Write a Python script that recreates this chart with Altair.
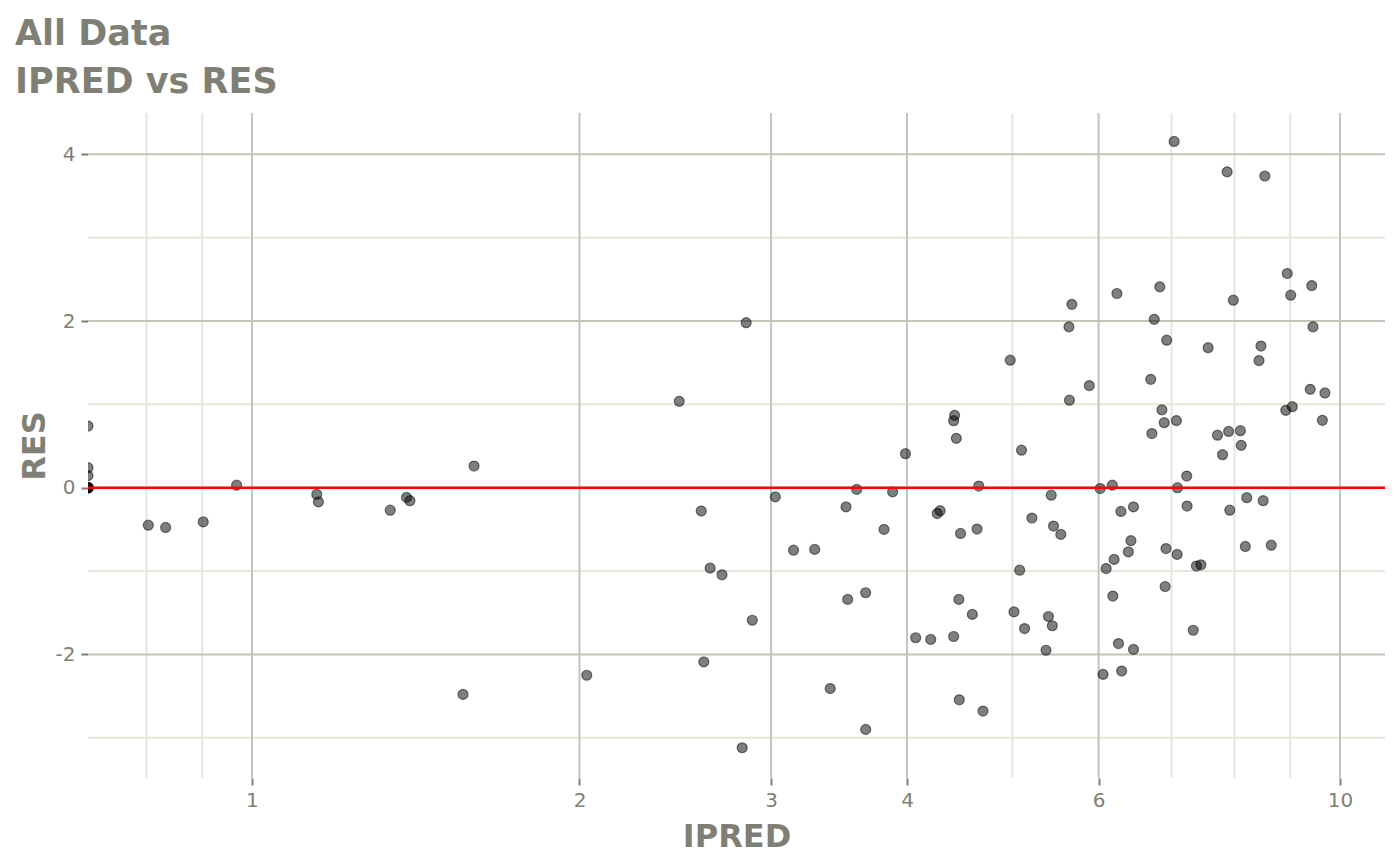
import altair as alt
import pandas as pd

# IPRED (x, log scale) and RES (y)
ipred = [
    0, 0, 0, 0, 0, 0, 0, 0, 0,
    0.803, 0.833, 0.902, 0.968, 1.147, 1.151, 1.34, 1.387, 1.397, 1.600, 1.563,
    2.031, 2.47, 2.588, 2.602, 2.637, 2.704, 2.822, 2.846, 2.883, 3.027,
    3.146, 3.29, 3.40, 3.516, 3.528, 3.596, 3.665, 3.665, 3.81, 3.88,
    3.987, 4.074, 4.206, 4.264, 4.29, 4.415, 4.424, 4.415, 4.44, 4.464,
    4.468, 4.48, 4.593, 4.639, 4.656, 4.698, 4.977, 5.016, 5.077, 5.097,
    5.13, 5.21, 5.368, 5.396, 5.428, 5.44, 5.454, 5.539, 5.635, 5.641,
    5.67, 5.883,
    6.02, 6.057, 6.097, 6.177, 6.184, 6.20, 6.237, 6.258, 6.29, 6.30,
    6.39, 6.425, 6.46, 6.46, 6.70, 6.716, 6.75, 6.83, 6.86, 6.894,
    6.907, 6.92, 6.93, 7.04, 7.074, 7.085, 7.09,
    7.23, 7.236, 7.33, 7.38, 7.45, 7.565, 7.716, 7.80, 7.876, 7.90,
    7.92, 7.98, 8.10, 8.114, 8.185, 8.21, 8.425, 8.46, 8.50, 8.53,
    8.647, 8.916, 8.944, 9.01, 9.04, 9.39, 9.42, 9.445, 9.634, 9.687,
]
res = [
    0.74, 0.24, 0.145, 0, 0, 0, 0, 0, 0,
    -0.45, -0.477, -0.41, 0.03, -0.08, -0.17, -0.27, -0.116, -0.156, 0.26, -2.48,
    -2.25, 1.036, -0.28, -2.09, -0.965, -1.045, -3.12, 1.98, -1.59, -0.11,
    -0.75, -0.74, -2.41, -0.23, -1.34, -0.02, -1.26, -2.90, -0.50, -0.05,
    0.408, -1.80, -1.82, -0.31, -0.276, 0.804, 0.868, -1.785, 0.592, -1.34,
    -2.545, -0.549, -1.52, -0.496, 0.02, -2.68, 1.53, -1.49, -0.99, 0.45,
    -1.69, -0.364, -1.95, -1.545, -0.09, -1.656, -0.46, -0.56, 1.93, 1.05,
    2.20, 1.225,
    -0.01, -2.24, -0.97, 0.03, -1.30, -0.86, 2.33, -1.87, -0.285, -2.20,
    -0.77, -0.635, -0.23, -1.94, 1.30, 0.65, 2.02, 2.41, 0.934, 0.78,
    -1.185, -0.73, 1.77, 4.155, 0.805, -0.80, 0.0,
    0.14, -0.22, -1.71, -0.94, -0.925, 1.68, 0.63, 0.396, 3.79, 0.675,
    -0.27, 2.25, 0.684, 0.508, -0.705, -0.12, 1.525, 1.70, -0.156, 3.74,
    -0.69, 0.928, 2.57, 2.31, 0.972, 1.18, 2.425, 1.93, 0.808, 1.137,
]

major_x = [1, 2, 3, 4, 6, 10]
minor_x = [0.8, 0.9, 5, 7, 8, 9]
major_y = [-2, 0, 2, 4]
minor_y = [-3, -1, 1, 3]
ref_line = [0]

TEXT = "#7f7f75"
GRID_MAJOR = "#c4c4b8"
GRID_MINOR = "#e6e6da"
FONT = "DejaVu Sans"

df = pd.DataFrame({"IPRED": ipred, "RES": res})

xscale = alt.Scale(type="log", domain=[0.7068, 11.0], nice=False, clamp=True)
yscale = alt.Scale(domain=[-3.483, 4.496], nice=False, zero=False)

xaxis = alt.Axis(
    title="IPRED", values=major_x, grid=False, domain=False,
    ticks=True, tickSize=7, tickWidth=2, tickColor=TEXT,
    labelColor=TEXT, labelFont=FONT, labelFontSize=20, labelPadding=5,
    labelFlush=False, labelOverlap=False, labelExpr="'' + datum.value",
    titleFont=FONT, titleFontSize=32, titleFontWeight="bold", titleColor=TEXT,
    titleBaseline="alphabetic", titleY=68,
)
yaxis = alt.Axis(
    title="RES", values=major_y, grid=False, domain=False,
    ticks=True, tickSize=7, tickWidth=2, tickColor=TEXT,
    labelColor=TEXT, labelFont=FONT, labelFontSize=20, labelPadding=6,
    labelFlush=False, labelOverlap=False,
    labelExpr="datum.value < 0 ? '-' + (-datum.value) : '' + datum.value",
    titleFont=FONT, titleFontSize=32, titleFontWeight="bold", titleColor=TEXT,
    titleBaseline="alphabetic", titleX=-44,
)

X = lambda: alt.X("IPRED:Q", scale=xscale, axis=xaxis)
Y = lambda: alt.Y("RES:Q", scale=yscale, axis=yaxis)

minor_v = alt.Chart(pd.DataFrame({"IPRED": minor_x})).mark_rule(
    color=GRID_MINOR, strokeWidth=2).encode(x=X())
minor_h = alt.Chart(pd.DataFrame({"RES": minor_y})).mark_rule(
    color=GRID_MINOR, strokeWidth=2).encode(y=Y())
major_v = alt.Chart(pd.DataFrame({"IPRED": major_x})).mark_rule(
    color=GRID_MAJOR, strokeWidth=2).encode(x=X())
major_h = alt.Chart(pd.DataFrame({"RES": major_y})).mark_rule(
    color=GRID_MAJOR, strokeWidth=2).encode(y=Y())

points = alt.Chart(df).mark_circle(
    size=100, fill="black", fillOpacity=0.5, stroke="black", strokeOpacity=0.5,
    strokeWidth=1.2, clip=True
).encode(x=X(), y=Y())

zero_line = alt.Chart(pd.DataFrame({"RES": ref_line})).mark_rule(
    color="#ff0000", strokeWidth=2.5).encode(y=Y())

chart = alt.layer(minor_v, minor_h, major_v, major_h, points, zero_line).properties(
    width=1297, height=665,
    autosize=alt.AutoSizeParams(type="none"),
    padding={"left": 80, "top": 105, "right": 7, "bottom": 80},
    view=alt.ViewBackground(stroke="transparent", strokeWidth=0),
    title=alt.TitleParams(
        text=["All Data", "IPRED vs RES"], anchor="start", frame="group",
        dx=-73, dy=36, offset=13, fontSize=35, font=FONT, fontWeight="bold",
        color=TEXT, lineHeight=48, baseline="bottom",
    ),
).configure_view(stroke="transparent", strokeWidth=0).configure(background="white")

chart.save("out.html", embed_options={"renderer": "svg", "actions": False})
